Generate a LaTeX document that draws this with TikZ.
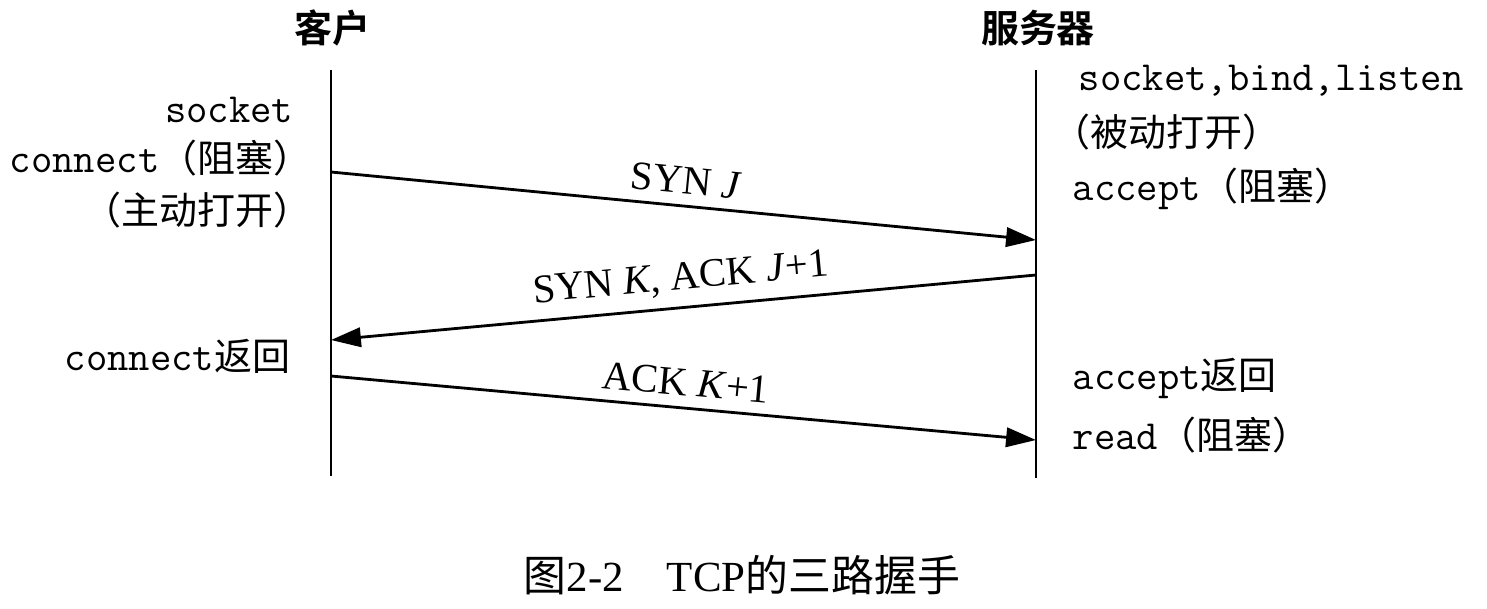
\documentclass[tikz,border=0pt]{standalone}
\usepackage{fontspec}
\setmainfont{Liberation Serif}
\newfontfamily\zh{Noto Sans CJK SC}
\newfontfamily\zhb{Noto Sans CJK SC Bold}
\usetikzlibrary{arrows.meta}
\newcommand{\mo}[1]{{\fontsize{11.8}{13}\selectfont\ttfamily #1}}
\newcommand{\zhx}[1]{{\zh #1}}
\begin{document}
\begin{tikzpicture}[x=0.01cm,y=-0.01cm,
  lifeline/.style={line width=0.8pt},
  msg/.style={line width=0.8pt,-{Triangle[length=8.5pt,width=5.5pt]}},
  msglabel/.style={font=\fontsize{11.5}{13}\selectfont, sloped, above, inner sep=3pt},
  lbl/.style={font=\fontsize{10.8}{12}\selectfont, inner sep=0pt, text height=0.75em, text depth=0.25em},
  head/.style={font=\fontsize{10.8}{12}\selectfont\zhb, inner sep=0pt}]
\useasboundingbox (0,0) rectangle (1487,608);
% headings
\node[head] (client) at (332,28) {客户};
\node[head] (server) at (1038,28) {服务器};
% lifelines
\coordinate (ctop) at (331,70);
\coordinate (cbot) at (331,476);
\coordinate (stop) at (1036,70);
\coordinate (sbot) at (1036,478);
\draw[lifeline] (ctop) -- (cbot);
\draw[lifeline] (stop) -- (sbot);
% message end points
\coordinate (c1) at (331,172);
\coordinate (s1) at (1036,240);
\coordinate (s2) at (1036,275);
\coordinate (c2) at (331,340);
\coordinate (c3) at (331,376);
\coordinate (s3) at (1036,440);
\draw[msg] (c1) -- node[msglabel] (m1) {SYN \textit{J}} (s1);
\draw[msg] (s2) -- node[msglabel] (m2) {SYN \textit{K}, ACK \textit{J}+1} (c2);
\draw[msg] (c3) -- node[msglabel] (m3) {ACK \textit{K}+1} (s3);
% client labels
\node[lbl, anchor=east] (cl1) at (294,114) {\mo{socket}};
\node[lbl, anchor=east] (cl2) at (312,164) {\mo{connect}\zhx{（阻塞）}};
\node[lbl, anchor=east] (cl3) at (312,216) {\zhx{（主动打开）}};
\node[lbl, anchor=east] (cl4) at (291,362) {\mo{connect}\zhx{返回}};
% server labels
\node[lbl, anchor=west] (sl1) at (1078,82) {\mo{socket,bind,listen}};
\node[lbl, anchor=west] (sl2) at (1052,138) {\zhx{（被动打开）}};
\node[lbl, anchor=west] (sl3) at (1072,192) {\mo{accept}\zhx{（阻塞）}};
\node[lbl, anchor=west] (sl4) at (1072,381) {\mo{accept}\zhx{返回}};
\node[lbl, anchor=west] (sl5) at (1072,441) {\mo{read}\zhx{（阻塞）}};
% caption
\node[font=\fontsize{12.2}{14}\selectfont, inner sep=0pt] (cap) at (742,575) {\zhx{图}2-2\quad TCP\zhx{的三路握手}};
\end{tikzpicture}
\end{document}
